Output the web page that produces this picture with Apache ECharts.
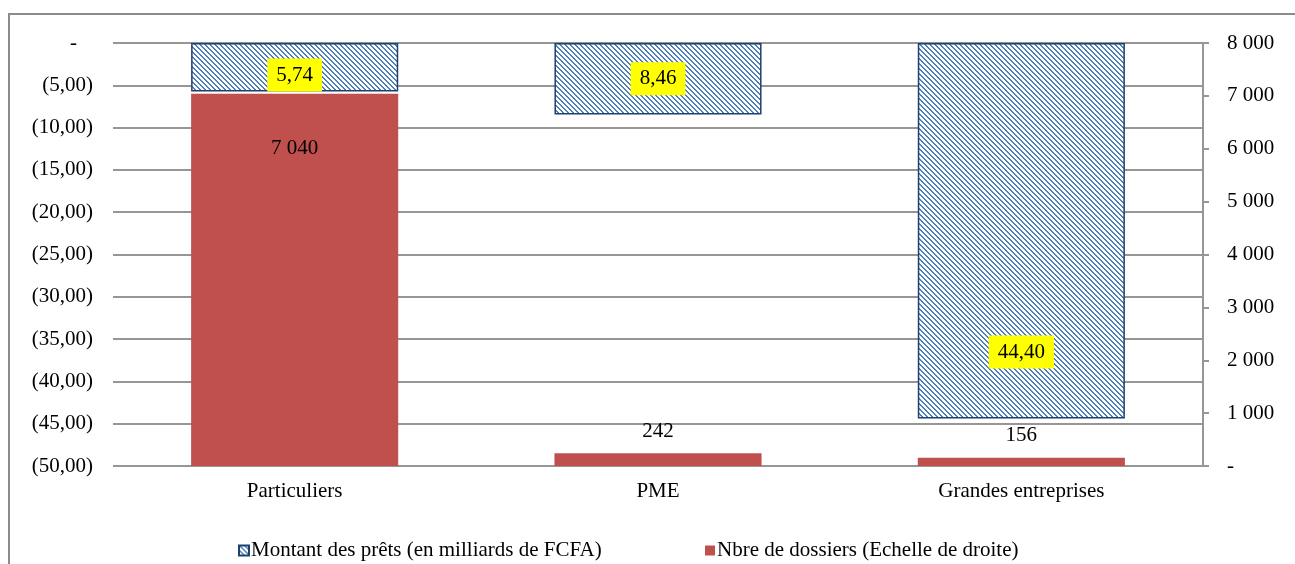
<!DOCTYPE html>
<html>
<head>
<meta charset="utf-8">
<script src="https://cdn.jsdelivr.net/npm/echarts@6/dist/echarts.min.js"></script>
<style>
  html, body { margin: 0; padding: 0; background: #fff; }
  #chart { width: 1295px; height: 564px; }
</style>
</head>
<body>
<div id="chart"></div>
<script>
// Loan amounts and number of files by borrower category
const categories = ['Particuliers', 'PME', 'Grandes entreprises'];
const montantPrets = [5.74, 8.46, 44.40];          // milliards de FCFA (left axis)
const nbreDossiers = [7040, 242, 156];             // number of files (right axis)

const leftTickValues = [0, 5, 10, 15, 20, 25, 30, 35, 40, 45, 50];
const leftTickLabels = ['-', '(5,00)', '(10,00)', '(15,00)', '(20,00)', '(25,00)',
                        '(30,00)', '(35,00)', '(40,00)', '(45,00)', '(50,00)'];
const rightTickValues = [0, 1000, 2000, 3000, 4000, 5000, 6000, 7000, 8000];
const rightTickLabels = ['-', '1 000', '2 000', '3 000', '4 000', '5 000', '6 000', '7 000', '8 000'];

const serieNames = ['Montant des prêts (en milliards de FCFA)', 'Nbre de dossiers (Echelle de droite)'];

// label placement for each bar
const montantLabelPlacement = [
  { position: 'insideBottom', distance: 0 },
  { position: 'inside' },
  { position: 'insideBottom', distance: 50 }
];
const dossiersLabelPlacement = [
  { position: 'insideTop', distance: 44 },
  { position: 'top', distance: 11 },
  { position: 'top', distance: 11 }
];

const FONT = "'Liberation Serif', 'Times New Roman', serif";
const GRID_COLOR = '#969696';

// diagonal blue / white hatch
function hatchPattern() {
  const size = 10, period = 5;
  const c = document.createElement('canvas');
  c.width = size; c.height = size;
  const g = c.getContext('2d');
  g.fillStyle = '#ffffff';
  g.fillRect(0, 0, size, size);
  g.fillStyle = '#4f81bd';
  for (let y = 0; y < size; y++) {
    for (let x = 0; x < size; x++) {
      if ((((x - y) % period) + period) % period < 2) g.fillRect(x, y, 1, 1);
    }
  }
  return { image: c, repeat: 'repeat' };
}

const fmtDecimal = v => v.toFixed(2).replace('.', ',');
const fmtThousands = v => String(Math.round(v)).replace(/\B(?=(\d{3})+(?!\d))/g, ' ');

const chart = echarts.init(document.getElementById('chart'), null, { renderer: 'canvas' });

const legendText = { fontFamily: FONT, fontSize: 21, color: '#000', padding: [0, 0, 0, -3] };

const option = {
  animation: false,
  backgroundColor: '#ffffff',
  textStyle: { fontFamily: FONT, fontSize: 21, color: '#000' },
  graphic: [{
    type: 'rect',
    silent: true,
    z: -10,
    shape: { x: 9, y: 14, width: 1320, height: 620 },
    style: { fill: 'none', stroke: '#8c8c8c', lineWidth: 2 }
  }],
  grid: { left: 113, right: 92, top: 43, bottom: 98 },
  legend: [
    {
      data: [serieNames[0]],
      left: 233, top: 535,
      icon: 'rect', itemWidth: 10, itemHeight: 10,
      textStyle: legendText
    },
    {
      data: [serieNames[1]],
      left: 700, top: 535,
      icon: 'rect', itemWidth: 10, itemHeight: 10,
      textStyle: legendText
    }
  ],
  xAxis: {
    type: 'category',
    data: categories,
    axisLine: { show: false },
    axisTick: { show: false },
    axisLabel: { margin: 15, fontFamily: FONT, fontSize: 21, color: '#000' }
  },
  yAxis: [
    {
      type: 'value',
      inverse: true,
      min: 0, max: 50, interval: 5,
      position: 'left',
      axisLine: { show: false },
      axisTick: { show: false },
      splitLine: { show: true, lineStyle: { color: GRID_COLOR, width: 2 } },
      axisLabel: {
        margin: 20,
        fontFamily: FONT, fontSize: 21, color: '#000',
        formatter: v => {
          const i = leftTickValues.indexOf(v);
          const t = i >= 0 ? leftTickLabels[i] : '';
          return v === 0 ? '{dash|' + t + '}' : t;
        },
        rich: { dash: { fontFamily: FONT, fontSize: 21, color: '#000', padding: [0, 16, 0, 0] } }
      }
    },
    {
      type: 'value',
      min: 0, max: 8000, interval: 1000,
      position: 'right',
      axisLine: { show: true, lineStyle: { color: GRID_COLOR, width: 2 } },
      axisTick: { show: true, length: 6, lineStyle: { color: GRID_COLOR, width: 2 } },
      splitLine: { show: false },
      axisLabel: {
        margin: 24,
        fontFamily: FONT, fontSize: 21, color: '#000',
        formatter: v => {
          const i = rightTickValues.indexOf(v);
          return i >= 0 ? rightTickLabels[i] : '';
        }
      }
    }
  ],
  series: [
    {
      name: serieNames[0],
      type: 'bar',
      yAxisIndex: 0,
      barCategoryGap: '43%',
      barGap: '-100%',
      z: 3,
      itemStyle: { color: hatchPattern(), borderColor: '#1f3f6e', borderWidth: 1.5 },
      data: montantPrets.map((v, i) => ({
        value: v,
        label: Object.assign({}, montantLabelPlacement[i])
      })),
      label: {
        show: true,
        formatter: p => fmtDecimal(p.value),
        fontFamily: FONT, fontSize: 21, color: '#000',
        backgroundColor: '#ffff00',
        padding: [6, 9, 5, 9],
        lineHeight: 22
      }
    },
    {
      name: serieNames[1],
      type: 'bar',
      yAxisIndex: 1,
      barCategoryGap: '43%',
      barGap: '-100%',
      z: 2,
      itemStyle: { color: '#c0504d' },
      data: nbreDossiers.map((v, i) => ({
        value: v,
        label: Object.assign({}, dossiersLabelPlacement[i])
      })),
      label: {
        show: true,
        formatter: p => fmtThousands(p.value),
        fontFamily: FONT, fontSize: 21, color: '#000',
        lineHeight: 22
      }
    }
  ]
};

chart.setOption(option);
</script>
</body>
</html>
